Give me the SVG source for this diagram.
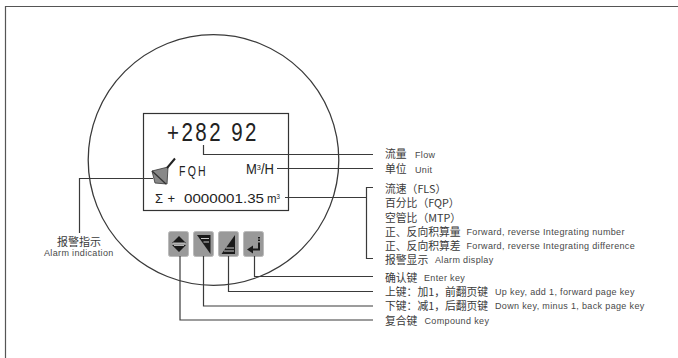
<svg xmlns="http://www.w3.org/2000/svg" width="678" height="358" viewBox="0 0 678 358">
<style>
.l{fill:none;stroke:#3a3a3a;stroke-width:1.2}
.c{font-family:"Noto Sans CJK SC","Liberation Sans",sans-serif;font-size:10.8px;fill:#3a3a3a}
.e{font-family:"Liberation Sans",sans-serif;font-size:9px;fill:#484848;letter-spacing:.35px}
.d{font-family:"Liberation Sans",sans-serif;fill:#222}
.k{fill:#999;stroke:#bbb;stroke-width:1}
</style>
<rect width="678" height="358" fill="#fff"/>
<path id="frame" d="M5.500 358V6.500H678" fill="none" stroke="#555" stroke-width="1.200"/>
<circle id="dial" cx="213.500" cy="160" r="125.300" fill="none" stroke="#3a3a3a" stroke-width="1.300"/>
<g id="display">
<rect x="143.500" y="113.500" width="145" height="97" fill="#fff" stroke="#333" stroke-width="1.200"/>
<text class="d" transform="translate(167 141) scale(.82 1)" font-size="25" letter-spacing="3">+282 92</text>
<g id="alarm-icon"><path d="M152 171L168 167L167 184L155 183Z" fill="#888" stroke="#444" stroke-width=".9"/><path d="M152 171L166 184" fill="none" stroke="#333" stroke-width="1.300"/><path d="M167 168L175 158.500" fill="none" stroke="#222" stroke-width="2"/></g>
<text class="d" transform="translate(179 176) scale(.75 1)" font-size="14" letter-spacing="3">FQH</text>
<text class="d" x="246" y="174" font-size="14" textLength="28" lengthAdjust="spacingAndGlyphs">M<tspan font-size="8" dy="-4">3</tspan><tspan dy="4">/H</tspan></text>
<text class="d" x="155" y="203" font-size="13" textLength="20">Σ+</text>
<text class="d" x="184" y="203" font-size="13.500" textLength="80" lengthAdjust="spacingAndGlyphs">0000001.35</text>
<text class="d" x="267" y="203" font-size="13" textLength="13" lengthAdjust="spacingAndGlyphs">m<tspan font-size="7" dy="-4">3</tspan></text>
</g>
<g id="key-compound"><rect class="k" x="168.500" y="231.500" width="20" height="25" rx="2"/><path d="M179 236l7 7h-14zM179 252l7-7h-14z" fill="#1a1a1a"/><path d="M173 243h12M174 245.500h10" stroke="#ddd" stroke-width=".8" fill="none"/></g>
<g id="key-down"><rect class="k" x="193.500" y="231.500" width="20" height="25" rx="2"/><path d="M197 235h13.500v19z" fill="#1a1a1a"/><path d="M201 238.500h8M203.500 242h5.500" stroke="#ddd" stroke-width=".9" fill="none"/></g>
<g id="key-up"><rect class="k" x="218.500" y="231.500" width="20" height="25" rx="2"/><path d="M235 235v19h-13.500z" fill="#1a1a1a"/><path d="M226 248h8M224 251h10" stroke="#ddd" stroke-width=".9" fill="none"/></g>
<g id="key-enter"><rect class="k" x="243.500" y="231.500" width="20" height="25" rx="2"/><path d="M247 249.500l6-4v8z" fill="#1a1a1a"/><path d="M252 249.500h7v-7" fill="none" stroke="#1a1a1a" stroke-width="2"/><path d="M259 241v-4" fill="none" stroke="#1a1a1a" stroke-width="2" stroke-dasharray="1.500 1"/></g>
<g id="connectors" class="l">
<path d="M203.500 145V154.500H373"/>
<path d="M277 168.500H373"/>
<path d="M285 197.500H366.500M373 187.500H366.500V258.500H373"/>
<path d="M153 178.500H79.500V233"/>
<path d="M254.500 256V276.500H373"/>
<path d="M228.500 256V291.500H373"/>
<path d="M203.500 256V306H373"/>
<path d="M180 256V320H373"/>
</g>
<g id="labels">
<text class="c" x="385" y="158">流量</text><text class="e" x="415" y="157.500">Flow</text>
<text class="c" x="385" y="173">单位</text><text class="e" x="415" y="172.500">Unit</text>
<text class="c" x="385" y="193">流速（FLS）</text>
<text class="c" x="385" y="207">百分比（FQP）</text>
<text class="c" x="385" y="221.500">空管比（MTP）</text>
<text class="c" x="385" y="235.500">正、反向积算量</text><text class="e" x="466.500" y="234.500">Forward, reverse Integrating number</text>
<text class="c" x="385" y="249.500">正、反向积算差</text><text class="e" x="466.500" y="248.500">Forward, reverse Integrating difference</text>
<text class="c" x="385" y="264">报警显示</text><text class="e" x="435" y="263">Alarm display</text>
<text class="c" x="385" y="281.500">确认键</text><text class="e" x="424" y="280.500">Enter key</text>
<text class="c" x="385" y="295.500">上键：加1，前翻页键</text><text class="e" x="495" y="294.500">Up key, add 1, forward page key</text>
<text class="c" x="385" y="310">下键：减1，后翻页键</text><text class="e" x="495" y="309">Down key, minus 1, back page key</text>
<text class="c" x="385" y="325">复合键</text><text class="e" x="424.500" y="324">Compound key</text>
<text class="c" x="57" y="245.500" style="font-size:11px">报警指示</text><text class="e" x="44" y="256">Alarm indication</text>
</g>
</svg>
